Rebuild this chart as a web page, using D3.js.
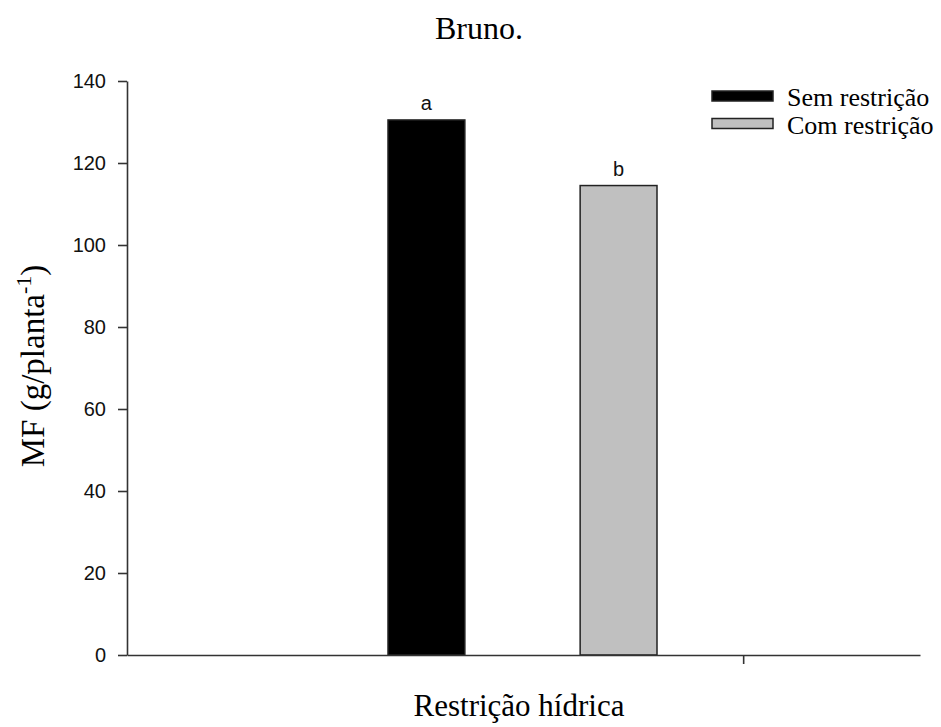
<!DOCTYPE html>
<html>
<head>
<meta charset="UTF-8">
<title>MF - Restrição hídrica</title>
<script src="https://d3js.org/d3.v7.min.js"></script>
<style>
  body { margin: 0; background: #fff; }
  .tick text { font-family: "Liberation Sans", Arial, sans-serif; font-size: 20px; fill: #111; }
  .serif { font-family: "Liberation Serif", "Times New Roman", serif; fill: #000; }
</style>
</head>
<body>
<script>
// data
var categories = ["Sem restrição", "Com restrição"];
var values = [130.5, 114.5];
var letters = ["a", "b"];
var colors = ["#000000", "#c0c0c0"];
var yTicks = [0, 20, 40, 60, 80, 100, 120, 140];
var xTickValues = [0.777];

var W = 941, H = 727;
var m = {top: 81, right: 21, bottom: 72, left: 127};

var svg = d3.select("body").append("svg")
    .attr("width", W)
    .attr("height", H);

var y = d3.scaleLinear().domain([0, 140]).range([H - m.bottom, m.top]);
var x = d3.scaleLinear().domain([0, 1]).range([m.left, W - m.right]);
var xBar = d3.scaleBand().domain(categories).range([388, 657]).paddingInner(0.6);

// bars
svg.selectAll("rect.bar")
    .data(values)
    .enter().append("rect")
    .attr("class", "bar")
    .attr("x", function(d, i){ return xBar(categories[i]); })
    .attr("y", function(d){ return y(d); })
    .attr("width", xBar.bandwidth())
    .attr("height", function(d){ return y(0) - y(d); })
    .attr("fill", function(d, i){ return colors[i]; })
    .attr("stroke", "#222")
    .attr("stroke-width", 1.5);

// significance letters
svg.selectAll("text.letter")
    .data(values)
    .enter().append("text")
    .attr("class", "letter")
    .attr("x", function(d, i){ return xBar(categories[i]) + xBar.bandwidth() / 2; })
    .attr("y", function(d){ return y(d) - 10; })
    .attr("text-anchor", "middle")
    .style("font-family", "'Liberation Sans', Arial, sans-serif")
    .style("font-size", "20px")
    .attr("fill", "#111")
    .text(function(d, i){ return letters[i]; });

// axes
svg.append("g")
    .attr("transform", "translate(" + m.left + ",0)")
    .call(d3.axisLeft(y).tickValues(yTicks).tickSize(9).tickSizeOuter(0).tickPadding(12));

svg.append("g")
    .attr("transform", "translate(0," + y(0) + ")")
    .call(d3.axisBottom(x).tickValues(xTickValues).tickFormat("").tickSize(9).tickSizeOuter(0));

svg.selectAll(".domain, .tick line").attr("stroke", "#333").attr("stroke-width", 1.6);

// titles
svg.append("text").attr("class", "serif")
    .attr("x", 479).attr("y", 39)
    .attr("text-anchor", "middle")
    .style("font-size", "32px")
    .text("Bruno.");

svg.append("text").attr("class", "serif")
    .attr("x", 519).attr("y", 716)
    .attr("text-anchor", "middle")
    .style("font-size", "31px")
    .text("Restrição hídrica");

var yl = svg.append("text").attr("class", "serif")
    .attr("transform", "translate(44,366) rotate(-90)")
    .attr("text-anchor", "middle")
    .style("font-size", "33px");
yl.append("tspan").text("MF (g/planta");
yl.append("tspan").attr("dy", -13).style("font-size", "22px").text("-1");
yl.append("tspan").attr("dy", 13).text(")");

// legend
var leg = svg.append("g").attr("transform", "translate(712,91)");
var items = leg.selectAll("g")
    .data(categories)
    .enter().append("g")
    .attr("transform", function(d, i){ return "translate(0," + i * 27.5 + ")"; });
items.append("rect")
    .attr("width", 61).attr("height", 10)
    .attr("fill", function(d, i){ return colors[i]; })
    .attr("stroke", "#222").attr("stroke-width", 1.5);
items.append("text").attr("class", "serif")
    .attr("x", 75).attr("y", 15)
    .style("font-size", "26px")
    .text(function(d){ return d; });
</script>
</body>
</html>
